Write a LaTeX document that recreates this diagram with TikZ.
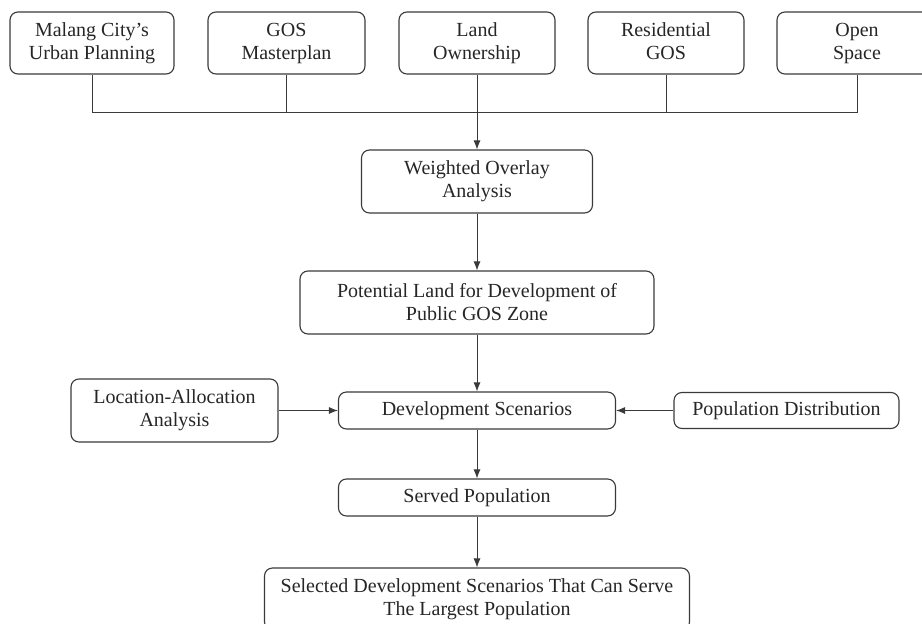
\documentclass[tikz,border=0pt]{standalone}
\usepackage{fontspec}
\setmainfont{Liberation Serif}
\usetikzlibrary{arrows.meta}
\definecolor{linegray}{HTML}{3A3A3A}
\tikzstyle{box}=[draw=linegray,line width=1.1pt,rounded corners=8pt,align=center,inner sep=2pt,text=black!85,font=\fontsize{20}{23}\selectfont]
\tikzstyle{link}=[draw=linegray,line width=1pt]
\tikzstyle{arrow}=[link,-{Latex[length=9pt,width=7pt]}]

\begin{document}
\begin{tikzpicture}[x=1pt,y=-1pt]
    \clip (0,0) rectangle (922,624);
    % First we draw the input maps on top
    \foreach \pos/\name/\w/\txt in {{(92,43)/urban/164/Malang City’s\\Urban Planning}, {(286.5,43)/masterplan/157/GOS\\Masterplan}, {(477,43)/land/156/Land\\Ownership}, {(666,43)/resid/156/Residential\\GOS}, {(857,43)/open/160/Open\\Space}}
        \node[box,minimum width=\w pt,minimum height=62pt] (\name) at \pos {\strut\txt\strut};
    % Then the analysis steps
    \node[box,minimum width=231pt,minimum height=63pt] (weighted) at (477,181.5) {Weighted Overlay\\Analysis};
    \node[box,minimum width=354pt,minimum height=63pt] (potential) at (477,302.5) {Potential Land for Development of\\Public GOS Zone};
    \node[box,minimum width=277pt,minimum height=37pt] (scenarios) at (477,410.5) {Development Scenarios};
    \node[box,minimum width=207pt,minimum height=63pt] (localloc) at (174.5,410.5) {Location-Allocation\\Analysis};
    \node[box,minimum width=225pt,minimum height=36pt] (popdist) at (786.5,410.5) {Population Distribution};
    \node[box,minimum width=277pt,minimum height=37pt] (served) at (477,497.5) {Served Population};
    \node[box,minimum width=425pt,minimum height=62pt] (selected) at (477,599) {Selected Development Scenarios That Can Serve\\The Largest Population};
    % Join the inputs on one line
    \coordinate (bus) at (0,112);
    \draw[link] (urban.south) -- (urban.south |- bus) -| (open.south);
    \foreach \name in {masterplan,resid}
        \draw[link] (\name.south) -- (\name.south |- bus);
    % Connect the steps with arrows
    \foreach \source/\dest in {land/weighted,weighted/potential,potential/scenarios,scenarios/served,served/selected}
        \draw[arrow] (\source.south) -- (\dest.north);
    \draw[arrow] (localloc.east) -- (scenarios.west);
    \draw[arrow] (popdist.west) -- (scenarios.east);
\end{tikzpicture}
\end{document}
